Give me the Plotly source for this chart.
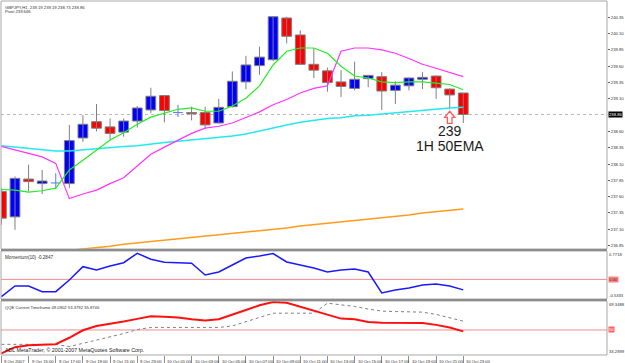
import plotly.graph_objects as go

# ---------------- data ----------------
bar_index = list(range(35))
opens = [237.68, 237.29, 237.87, 237.80, 237.81, 237.80, 238.50, 238.75, 238.67, 238.59,
         238.76, 238.93, 239.15, 238.89, 238.89, 238.89, 238.73, 238.98, 239.36, 239.61,
         239.70, 240.34, 240.08, 239.63, 239.53, 239.36, 239.26, 239.41, 239.44, 239.23,
         239.30, 239.40, 239.45, 239.25, 239.19]
highs = [237.73, 237.91, 238.09, 238.01, 237.96, 238.70, 238.85, 239.02, 238.80, 238.80,
         238.99, 239.27, 239.16, 239.01, 238.98, 238.98, 239.10, 239.52, 239.76, 239.90,
         240.37, 240.36, 240.15, 239.88, 239.58, 239.54, 239.67, 239.47, 239.51, 239.37,
         239.43, 239.51, 239.46, 239.26, 239.19]
lows = [237.17, 237.09, 237.68, 237.64, 237.73, 237.73, 238.44, 238.60, 238.47, 238.52,
        238.66, 238.88, 238.74, 238.82, 238.77, 238.64, 238.72, 238.97, 239.25, 239.47,
        239.68, 239.95, 239.62, 239.42, 239.21, 239.13, 239.23, 239.28, 238.93, 239.02,
        239.23, 239.25, 239.10, 238.94, 238.73]
closes = [237.27, 237.88, 237.83, 237.84, 237.81, 238.46, 238.71, 238.65, 238.57, 238.76,
          238.96, 239.14, 238.92, 238.89, 238.87, 238.70, 238.97, 239.37, 239.62, 239.74,
          240.36, 240.06, 239.63, 239.54, 239.35, 239.29, 239.40, 239.46, 239.22, 239.31,
          239.42, 239.43, 239.27, 239.16, 238.86]

green_ma = [237.71, 237.70, 237.67, 237.69, 237.73, 238.01, 238.16, 238.32, 238.47, 238.58,
            238.71, 238.82, 238.88, 238.94, 238.96, 238.91, 238.91, 238.99, 239.11, 239.30,
            239.62, 239.83, 239.88, 239.88, 239.80, 239.60, 239.45, 239.42, 239.36, 239.35,
            239.36, 239.36, 239.34, 239.32, 239.24]
magenta_ma = [238.37, 238.32, 238.27, 238.21, 238.11, 237.57, 237.64, 237.70, 237.80, 237.89,
              238.07, 238.25, 238.36, 238.47, 238.57, 238.65, 238.68, 238.73, 238.82, 238.90,
              239.01, 239.09, 239.19, 239.26, 239.30, 239.83, 239.88, 239.88, 239.85, 239.80,
              239.72, 239.63, 239.57, 239.50, 239.44]
cyan_ema50 = [238.38, 238.36, 238.34, 238.32, 238.30, 238.30, 238.32, 238.34, 238.35, 238.37,
              238.38, 238.41, 238.43, 238.45, 238.47, 238.48, 238.50, 238.53, 238.56, 238.61,
              238.65, 238.70, 238.74, 238.77, 238.80, 238.81, 238.84, 238.85, 238.87, 238.88,
              238.91, 238.92, 238.94, 238.96, 238.97]
orange_ma = [236.67, 236.69, 236.71, 236.74, 236.76, 236.78, 236.80, 236.82, 236.84, 236.87,
             236.89, 236.91, 236.93, 236.95, 236.97, 236.99, 237.01, 237.04, 237.06, 237.08,
             237.10, 237.12, 237.15, 237.17, 237.19, 237.21, 237.24, 237.26, 237.28, 237.30,
             237.32, 237.35, 237.37, 237.39, 237.41]

momentum = [-0.470, -0.179, -0.179, -0.334, -0.334, -0.016, 0.345, 0.256, 0.364, 0.454,
            0.710, 0.547, 0.465, 0.454, 0.438, 0.120, 0.201, 0.392, 0.582, 0.636,
            0.704, 0.473, 0.392, 0.310, 0.201, 0.256, 0.283, 0.201, -0.370, -0.290,
            -0.234, -0.152, -0.125, -0.179, -0.2847]

qqe_fast = [34.4, 38.5, 39.8, 40.2, 40.5, 44.8, 49.8, 52.6, 54.0, 55.6,
            57.4, 59.1, 58.8, 58.3, 57.2, 56.4, 57.2, 60.0, 63.3, 66.5,
            68.6, 68.2, 65.6, 63.1, 60.2, 57.6, 57.2, 55.3, 54.8, 54.8,
            54.8, 54.7, 53.4, 51.6, 49.09]
qqe_slow = [40.4, 40.4, 40.4, 40.4, 40.4, 38.9, 41.0, 43.2, 45.4, 47.6,
            50.3, 51.7, 51.7, 51.7, 51.7, 51.7, 51.7, 52.7, 55.7, 58.7,
            61.2, 61.2, 61.2, 61.2, 67.9, 67.0, 65.7, 64.0, 62.6, 62.3,
            62.1, 61.9, 60.4, 58.2, 55.87]

time_tick_bars = [0, 2, 4, 6, 8, 10, 12, 14, 16, 18, 20, 22, 24, 26, 28, 30, 32, 34]
time_tick_labels = ["9 Oct 2007", "9 Oct 15:00", "9 Oct 17:00", "9 Oct 19:00", "9 Oct 21:00",
                    "9 Oct 23:00", "10 Oct 01:00", "10 Oct 03:00", "10 Oct 05:00", "10 Oct 07:00",
                    "10 Oct 09:00", "10 Oct 11:00", "10 Oct 13:00", "10 Oct 15:00", "10 Oct 17:00",
                    "10 Oct 19:00", "10 Oct 21:00", "10 Oct 23:00"]
price_ticks = [240.35, 240.10, 239.85, 239.60, 239.35, 239.10, 238.60, 238.35, 238.10,
               237.85, 237.60, 237.35, 237.10, 236.85]
last_price = 238.86
main_range = [236.797, 240.601]
mom_range = [-0.5333, 0.7718]
qqe_range = [33.2899, 69.3488]
qqe_level = 50

# ---------------- figure ----------------
W, H = 625, 363
ML, MR, MT, MB = 1, 16, 1, 8
plot_h = H - MT - MB

def py(px):  # pixel row -> paper y
    return (H - MB - px) / plot_h

main_dom = [py(249), 1.0]
mom_dom = [py(299), py(251)]
qqe_dom = [0.0, py(301)]

fig = go.Figure()

BODY_W = 0.72
doji = [abs(c - o) < 0.005 for o, c in zip(opens, closes)]

# wicks
wx, wy, dx, dy = [], [], [], []
for i, o, h, l, c, d in zip(bar_index, opens, highs, lows, closes, doji):
    if d:
        dx += [i, i, None, i - BODY_W / 2, i + BODY_W / 2, None]
        dy += [l, h, None, o, o, None]
    else:
        wx += [i, i, None]
        wy += [l, h, None]
fig.add_trace(go.Scatter(x=wx, y=wy, mode="lines", line=dict(color="#7f7f7f", width=1),
                         xaxis="x", yaxis="y", hoverinfo="skip"))

# bodies
bx, bbase, bh, bcol = [], [], [], []
for i, o, c, d in zip(bar_index, opens, closes, doji):
    if d:
        continue
    bx.append(i)
    bbase.append(min(o, c))
    bh.append(abs(c - o))
    bcol.append("#0000ff" if c > o else "#ff0000")
fig.add_trace(go.Bar(x=bx, base=bbase, y=bh, width=BODY_W,
                     marker=dict(color=bcol, line=dict(color="#7f7f7f", width=1)),
                     xaxis="x", yaxis="y", hoverinfo="skip"))
fig.add_trace(go.Scatter(x=dx, y=dy, mode="lines", line=dict(color="#5a78ff", width=1),
                         xaxis="x", yaxis="y", hoverinfo="skip"))

# moving averages
fig.add_trace(go.Scatter(x=bar_index, y=orange_ma, mode="lines",
                         line=dict(color="#ff9a1a", width=1.5), xaxis="x", yaxis="y"))
fig.add_trace(go.Scatter(x=bar_index, y=cyan_ema50, mode="lines",
                         line=dict(color="#22e8f0", width=1.5), xaxis="x", yaxis="y"))
fig.add_trace(go.Scatter(x=bar_index, y=magenta_ma, mode="lines",
                         line=dict(color="#ff33ff", width=1.2), xaxis="x", yaxis="y"))
fig.add_trace(go.Scatter(x=bar_index, y=green_ma, mode="lines",
                         line=dict(color="#22ee22", width=1.2), xaxis="x", yaxis="y"))

# momentum
fig.add_trace(go.Scatter(x=bar_index, y=momentum, mode="lines",
                         line=dict(color="#1a1aff", width=1.5), xaxis="x2", yaxis="y2"))
# QQE
fig.add_trace(go.Scatter(x=bar_index, y=qqe_slow, mode="lines",
                         line=dict(color="#808080", width=1, dash="dot"), xaxis="x3", yaxis="y3"))
fig.add_trace(go.Scatter(x=bar_index, y=qqe_fast, mode="lines",
                         line=dict(color="#ff1010", width=2), xaxis="x3", yaxis="y3"))

xr = [-0.03, 44.58]
common_x = dict(range=xr, showgrid=False, zeroline=False, showline=False, fixedrange=True)
common_y = dict(showgrid=False, zeroline=False, showline=False, fixedrange=True)

fig.update_layout(
    width=W, height=H, margin=dict(l=ML, r=MR, t=MT, b=MB),
    paper_bgcolor="white", plot_bgcolor="white", showlegend=False,
    barmode="overlay",
    xaxis=dict(domain=[0, 1], anchor="y", showticklabels=False, **common_x),
    xaxis2=dict(domain=[0, 1], anchor="y2", matches="x", showticklabels=False, **common_x),
    xaxis3=dict(domain=[0, 1], anchor="y3", matches="x", showticklabels=False,
                tickmode="array", tickvals=time_tick_bars, ticks="outside", ticklen=7,
                tickcolor="#909090", tickwidth=1, **common_x),
    yaxis=dict(domain=main_dom, anchor="x", range=main_range, side="right",
               tickmode="array", tickvals=price_ticks,
               ticktext=[f"{v:.2f}" for v in price_ticks],
               ticks="outside", ticklen=2, tickcolor="#606060",
               tickfont=dict(size=4.2, color="#303030", family="Liberation Sans"), **common_y),
    yaxis2=dict(domain=mom_dom, anchor="x2", range=mom_range, showticklabels=False, **common_y),
    yaxis3=dict(domain=qqe_dom, anchor="x3", range=qqe_range, showticklabels=False, **common_y),
)

shapes = []
for dom in (main_dom, mom_dom, qqe_dom):
    shapes.append(dict(type="rect", xref="paper", yref="paper", x0=0, x1=1, y0=dom[0], y1=dom[1],
                       line=dict(color="#a8a8a8", width=1), layer="above"))
shapes.append(dict(type="rect", xref="paper", yref="paper", x0=0, x1=1, y0=mom_dom[1], y1=main_dom[0],
                   fillcolor="#8c8c8c", line=dict(width=0), layer="above"))
shapes.append(dict(type="rect", xref="paper", yref="paper", x0=0, x1=1, y0=qqe_dom[1], y1=mom_dom[0],
                   fillcolor="#8c8c8c", line=dict(width=0), layer="above"))
shapes.append(dict(type="line", xref="paper", yref="y", x0=0, x1=1, y0=last_price, y1=last_price,
                   line=dict(color="#b8b8b8", width=1, dash="dot"), layer="below"))
shapes.append(dict(type="line", xref="paper", yref="y2", x0=0, x1=1, y0=0, y1=0,
                   line=dict(color="#f08c8c", width=1), layer="below"))
shapes.append(dict(type="line", xref="paper", yref="y3", x0=0, x1=1, y0=qqe_level, y1=qqe_level,
                   line=dict(color="#f08c8c", width=1), layer="below"))

# hollow up-arrow pointing at the 50 EMA on bar 33
arrow_bar = 33
tip = cyan_ema50[arrow_bar] - 0.05
neck = tip - 0.095
foot = tip - 0.185
hw, sw = 0.37, 0.17
ax = arrow_bar
arrow_path = (f"M {ax},{tip} L {ax + hw},{neck} L {ax + sw},{neck} L {ax + sw},{foot} "
              f"L {ax - sw},{foot} L {ax - sw},{neck} L {ax - hw},{neck} Z")
shapes.append(dict(type="path", xref="x", yref="y", path=arrow_path,
                   line=dict(color="#ff5a5a", width=1.3), fillcolor="white", layer="above"))
fig.update_layout(shapes=shapes)

small = dict(family="Liberation Sans", size=4.2, color="#303030")
ann = []
ann.append(dict(text="GBPJPY,H1  239.19 239.19 238.73 238.86", xref="paper", yref="paper",
                x=0, y=1, xanchor="left", yanchor="top", xshift=2, yshift=-1.5,
                showarrow=False, font=small))
ann.append(dict(text="Pivot 239.666", xref="paper", yref="paper",
                x=0, y=1, xanchor="left", yanchor="top", xshift=2, yshift=-6,
                showarrow=False, font=small))
ann.append(dict(text="Momentum(10) -0.2847", xref="paper", yref="paper",
                x=0, y=mom_dom[1], xanchor="left", yanchor="top", xshift=2, yshift=-1.5,
                showarrow=False, font=dict(family="Liberation Sans", size=4.6, color="#303030")))
ann.append(dict(text="QQE Current Timeframe 49.0902 53.3792 55.8746", xref="paper", yref="paper",
                x=0, y=qqe_dom[1], xanchor="left", yanchor="top", xshift=2, yshift=-1.5,
                showarrow=False, font=small))
ann.append(dict(text="ADL MetaTrader, © 2001-2007 MetaQuotes Software Corp.", xref="paper", yref="paper",
                x=0, y=0, xanchor="left", yanchor="bottom", xshift=2, yshift=0.5,
                showarrow=False, font=dict(family="Liberation Sans", size=5.3, color="#202020")))

# right-hand labels for sub panels
def rlabel(text, yref, y, yanchor, bg=None, fc="#303030"):
    d = dict(text=text, xref="paper", yref=yref, x=1, y=y, xanchor="left", yanchor=yanchor,
             xshift=1, showarrow=False, font=dict(family="Liberation Sans", size=4.2, color=fc),
             borderpad=0)
    if bg:
        d["bgcolor"] = bg
    return d

ann.append(rlabel(f"{mom_range[1]:.4f}", "y2", mom_range[1], "top"))
ann.append(rlabel("0.00", "y2", 0, "middle", bg="#ff8080"))
ann.append(rlabel(f"{mom_range[0]:.4f}", "y2", mom_range[0], "bottom"))
ann.append(rlabel(f"{qqe_range[1]:.4f}", "y3", qqe_range[1], "top"))
ann.append(rlabel(str(qqe_level), "y3", qqe_level, "middle", bg="#ff6060", fc="#ffffff"))
ann.append(rlabel(f"{qqe_range[0]:.4f}", "y3", qqe_range[0], "bottom"))
ann.append(rlabel(f"{last_price:.2f}", "y", last_price, "middle", bg="#000000", fc="#ffffff"))

# time axis labels
for b, t in zip(time_tick_bars, time_tick_labels):
    ann.append(dict(text=t, xref="x3", yref="paper", x=b, y=0, xanchor="left", yanchor="top",
                    xshift=1, yshift=-1.5, showarrow=False, font=small))

# EMA callout text
ann.append(dict(text="239", xref="x", yref="y", x=arrow_bar, y=238.607,
                xanchor="center", yanchor="middle", showarrow=False,
                font=dict(family="Liberation Sans", size=14, color="#1a1a1a")))
ann.append(dict(text="1H 50EMA", xref="x", yref="y", x=arrow_bar, y=238.381,
                xanchor="center", yanchor="middle", showarrow=False,
                font=dict(family="Liberation Sans", size=14, color="#1a1a1a")))
fig.update_layout(annotations=ann)

fig.write_html("out.html")
